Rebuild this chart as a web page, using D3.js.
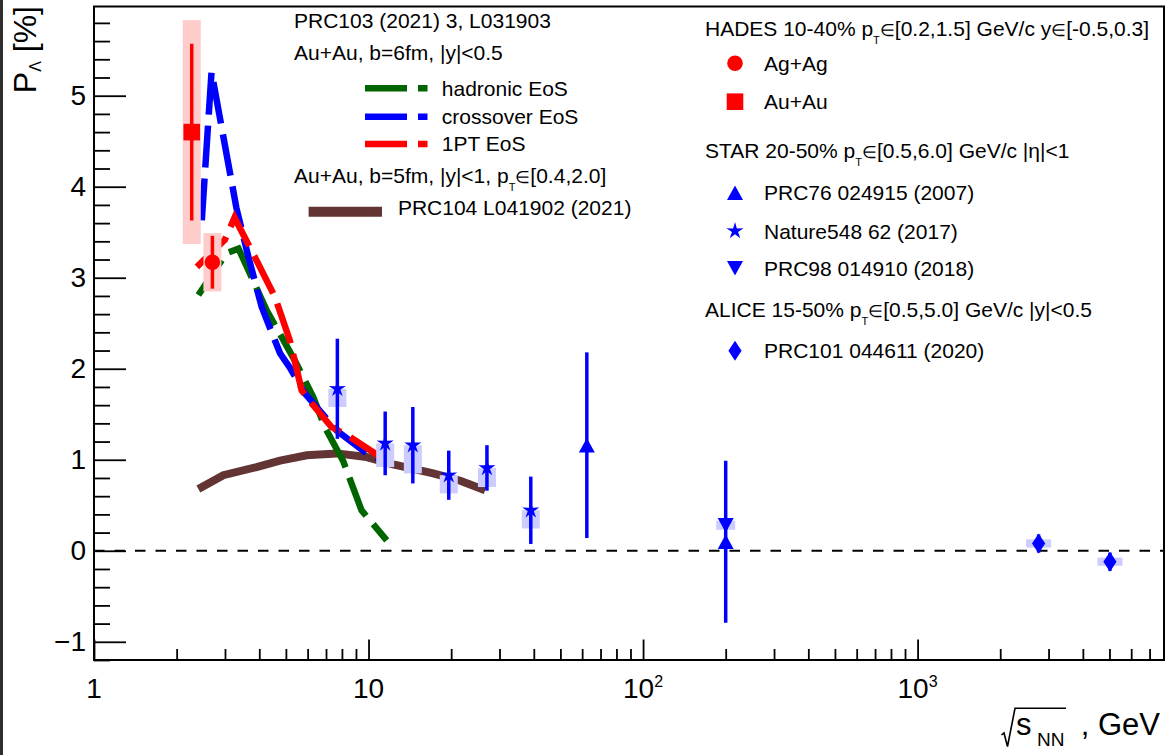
<!DOCTYPE html>
<html>
<head>
<meta charset="utf-8">
<script src="https://cdn.jsdelivr.net/npm/d3@7"></script>
<style>
  html, body { margin: 0; padding: 0; background: #fff; }
  svg text { font-family: "Liberation Sans", Arial, Helvetica, sans-serif; white-space: pre; }
</style>
</head>
<body>
<svg id="chart" width="1168" height="755"></svg>
<script>
// ---------- measurements: global Lambda polarization vs collision energy ----------
// HADES 10-40%
const hadesAgAgSqrtS = [2.70];
const hadesAgAgPol   = [3.17];
const hadesAgAgStat  = [0.29];
const hadesAgAgSys   = [0.32];

const hadesAuAuSqrtS = [2.27];
const hadesAuAuPol   = [4.60];
const hadesAuAuStat  = [0.97];
const hadesAuAuSys   = [1.23];

// STAR 20-50%, Nature 548 62 (2017): systematic band lies below the point
const star2017SqrtS   = [7.7, 11.5, 14.5, 19.6, 27, 39];
const star2017Pol     = [1.78, 1.18, 1.16, 0.83, 0.91, 0.445];
const star2017Stat    = [0.55, 0.35, 0.42, 0.27, 0.25, 0.37];
const star2017SysLow  = [0.20, 0.26, 0.31, 0.20, 0.21, 0.20];
const star2017SysHigh = [0, 0, 0, 0, 0, 0];

// STAR PRC76 024915 (2007)
const star2007SqrtS = [62.4, 200];
const star2007Pol   = [1.16, 0.10];
const star2007Stat  = [1.02, 0.89];

// STAR PRC98 014910 (2018)
const star2018SqrtS = [200];
const star2018Pol   = [0.28];
const star2018Stat  = [0.04];
const star2018Sys   = [0.05];

// ALICE 15-50%, PRC101 044611 (2020)
const aliceSqrtS = [2760, 5020];
const alicePol   = [0.08, -0.12];
const aliceStat  = [0.10, 0.10];
const aliceSys   = [0.045, 0.045];

// ---------- model curves ----------
const hadronicSqrtS  = [2.4, 3.04, 3.36, 4.26, 5.39, 6.29, 6.93, 8.1, 9.43, 11.65];
const hadronicPol    = [2.81, 3.27, 3.32, 2.64, 2.09, 1.69, 1.36, 0.98, 0.445, 0.115];

const crossoverSqrtS = [2.47, 2.68, 3.3, 3.65, 4.08, 4.76, 5.2, 5.86, 7.66, 9.84, 11.5];
const crossoverPol   = [3.63, 5.26, 3.77, 3.23, 2.68, 2.17, 2.0, 1.73, 1.32, 1.07, 0.98];

const onePTSqrtS     = [2.37, 3.0, 3.25, 3.91, 4.56, 5.17, 5.71, 6.21, 7.33, 8.57, 11.2];
const onePTPol       = [3.12, 3.42, 3.66, 3.19, 2.79, 2.31, 1.76, 1.62, 1.36, 1.25, 1.02];

const prc104SqrtS    = [2.4, 2.96, 3.91, 4.76, 5.96, 7.66, 9.84, 12.3, 17.2, 21.6, 26.6];
const prc104Pol      = [0.68, 0.83, 0.92, 0.99, 1.05, 1.07, 1.03, 0.95, 0.85, 0.77, 0.665];

// ---------- axis ticks ----------
const xTickValues = [1, 10, 100, 1000];
const yTickValues = [-1, 0, 1, 2, 3, 4, 5];

// ---------- layout ----------
const W = 1168, H = 755;
const frame = { left: 94, right: 1164, top: 6.5, bottom: 660 };
const RED = "#ff0000", BLUE = "#0000ff";
const PINK_BOX = "#ffcccc", BLUE_BOX = "#ccccff";

const x = d3.scaleLog().domain([1, 7900]).range([frame.left, frame.right]);
const y = d3.scaleLinear().domain([-1.2, 5.98]).range([frame.bottom, frame.top]);

const svg = d3.select("#chart");
svg.append("rect").attr("width", W).attr("height", H).attr("fill", "#fff");
svg.append("rect").attr("x", 0).attr("y", 0).attr("width", 3).attr("height", H).attr("fill", "#2e2e2e");

// ---------- axes ----------
const yMinor = d3.range(-6, 30).map(i => i / 5).filter(v => Math.abs(v - Math.round(v)) > 1e-6);
const gyMinor = svg.append("g").attr("transform", `translate(${frame.left},0)`)
  .call(d3.axisLeft(y).tickValues(yMinor).tickSizeInner(-16).tickSizeOuter(0).tickFormat(""));
const gy = svg.append("g").attr("transform", `translate(${frame.left},0)`)
  .call(d3.axisLeft(y).tickValues(yTickValues).tickSizeInner(-32).tickSizeOuter(0)
    .tickPadding(8).tickFormat(d3.format("d")));

const xMinor = [];
xTickValues.forEach(d => { for (let k = 2; k <= 9; k++) if (k * d <= 7900) xMinor.push(k * d); });
const gxMinor = svg.append("g").attr("transform", `translate(0,${frame.bottom})`)
  .call(d3.axisBottom(x).tickValues(xMinor).tickSizeInner(-11).tickSizeOuter(0).tickFormat(""));
const gx = svg.append("g").attr("transform", `translate(0,${frame.bottom})`)
  .call(d3.axisBottom(x).tickValues(xTickValues).tickSizeInner(-20.5).tickSizeOuter(0).tickFormat(""));

[gy, gyMinor, gx, gxMinor].forEach(g => {
  g.select(".domain").remove();
  g.selectAll(".tick line").attr("stroke", "#000").attr("stroke-width", 1.8);
});
gy.selectAll(".tick text").attr("font-size", 28).attr("fill", "#000");

// x tick labels: 1, 10, 10^2, 10^3
xTickValues.forEach(v => {
  const e = Math.round(Math.log10(v));
  const t = svg.append("text").attr("x", x(v)).attr("y", 698)
    .attr("text-anchor", "middle").attr("font-size", 28).attr("fill", "#000");
  if (e < 2) t.text(String(v));
  else {
    t.append("tspan").text("10");
    t.append("tspan").attr("dy", -11.5).attr("font-size", 16).text(String(e));
  }
});

// axis titles
const yTitle = svg.append("text").attr("transform", "translate(36,6) rotate(-90)")
  .attr("text-anchor", "end").attr("font-size", 32).attr("fill", "#000");
yTitle.append("tspan").text("P");
yTitle.append("tspan").attr("dy", 5).attr("font-size", 16).text("Λ");
yTitle.append("tspan").attr("dy", -5).text(" [%]");

svg.append("path")
  .attr("d", "M1001.5,735 L1004,733 L1007.5,746.5 L1015,708.3 L1066,708.3")
  .attr("fill", "none").attr("stroke", "#000").attr("stroke-width", 1.6);
svg.append("text").attr("x", 1016).attr("y", 735).attr("font-size", 31).attr("fill", "#000").text("s");
svg.append("text").attr("x", 1037).attr("y", 746).attr("font-size", 19).attr("fill", "#000").text("NN");
svg.append("text").attr("x", 1160).attr("y", 735).attr("text-anchor", "end")
  .attr("font-size", 31).attr("fill", "#000").text(", GeV");

// zero reference line
svg.append("line").attr("x1", frame.left).attr("x2", frame.right)
  .attr("y1", y(0)).attr("y2", y(0))
  .attr("stroke", "#000").attr("stroke-width", 2).attr("stroke-dasharray", "10.5 10");

// ---------- model curves ----------
const line = d3.line().x(d => x(d[0])).y(d => y(d[1]));
const DASH = "42 11";
const models = [
  { xs: prc104SqrtS,    ys: prc104Pol,    color: "#633434", width: 8, dash: null },
  { xs: hadronicSqrtS,  ys: hadronicPol,  color: "#006400", width: 6.5, dash: DASH },
  { xs: crossoverSqrtS, ys: crossoverPol, color: BLUE,      width: 6.5, dash: DASH },
  { xs: onePTSqrtS,     ys: onePTPol,     color: RED,       width: 6.5, dash: DASH }
];
models.forEach(m => {
  svg.append("path").datum(d3.zip(m.xs, m.ys)).attr("d", line)
    .attr("fill", "none").attr("stroke", m.color).attr("stroke-width", m.width)
    .attr("stroke-dasharray", m.dash).attr("stroke-linejoin", "miter");
});

// ---------- marker shapes ----------
function markerPath(kind) {
  switch (kind) {
    case "circle": return d3.symbol(d3.symbolCircle, Math.PI * 7.8 * 7.8)();
    case "square": return "M-8.3,-8.3H8.3V8.3H-8.3Z";
    case "triUp": return "M0,-7.2L8,7.2L-8,7.2Z";
    case "triDown": return "M0,7.2L8,-7.2L-8,-7.2Z";
    case "diamond": return "M0,-10L6.6,0L0,10L-6.6,0Z";
    case "star": {
      const pts = [];
      for (let i = 0; i < 10; i++) {
        const r = i % 2 === 0 ? 9 : 3.2;
        const a = -Math.PI / 2 + i * Math.PI / 5;
        pts.push([r * Math.cos(a), r * Math.sin(a)]);
      }
      return "M" + pts.map(p => p[0].toFixed(2) + "," + p[1].toFixed(2)).join("L") + "Z";
    }
  }
}

// ---------- data series ----------
function drawSeries(opt) {
  const rows = opt.xs.map((v, i) => ({
    e: v, p: opt.ys[i], stat: opt.stat[i],
    sLo: opt.sysLo ? opt.sysLo[i] : null, sHi: opt.sysHi ? opt.sysHi[i] : null
  }));
  const g = svg.append("g");
  if (opt.sysLo) {
    g.selectAll("rect.sys").data(rows).join("rect").attr("class", "sys")
      .attr("x", d => x(d.e) - opt.boxW / 2).attr("width", opt.boxW)
      .attr("y", d => y(d.p + d.sHi)).attr("height", d => y(d.p - d.sLo) - y(d.p + d.sHi))
      .attr("fill", opt.boxColor);
  }
  return { g, rows };
}
function drawBarsAndMarkers(s, opt) {
  s.g.selectAll("line.err").data(s.rows).join("line").attr("class", "err")
    .attr("x1", d => x(d.e)).attr("x2", d => x(d.e))
    .attr("y1", d => y(d.p - d.stat)).attr("y2", d => y(d.p + d.stat))
    .attr("stroke", opt.color).attr("stroke-width", 3.5);
  s.g.selectAll("path.mk").data(s.rows).join("path").attr("class", "mk")
    .attr("transform", d => `translate(${x(d.e)},${y(d.p)})`)
    .attr("d", markerPath(opt.marker)).attr("fill", opt.color);
}

const seriesDefs = [
  { xs: hadesAuAuSqrtS, ys: hadesAuAuPol, stat: hadesAuAuStat, sysLo: hadesAuAuSys, sysHi: hadesAuAuSys,
    boxW: 18, boxColor: PINK_BOX, color: RED, marker: "square" },
  { xs: hadesAgAgSqrtS, ys: hadesAgAgPol, stat: hadesAgAgStat, sysLo: hadesAgAgSys, sysHi: hadesAgAgSys,
    boxW: 18, boxColor: PINK_BOX, color: RED, marker: "circle" },
  { xs: star2017SqrtS, ys: star2017Pol, stat: star2017Stat, sysLo: star2017SysLow, sysHi: star2017SysHigh,
    boxW: 18, boxColor: BLUE_BOX, color: BLUE, marker: "star" },
  { xs: star2018SqrtS, ys: star2018Pol, stat: star2018Stat, sysLo: star2018Sys, sysHi: star2018Sys,
    boxW: 19, boxColor: BLUE_BOX, color: BLUE, marker: "triDown" },
  { xs: star2007SqrtS, ys: star2007Pol, stat: star2007Stat,
    color: BLUE, marker: "triUp" },
  { xs: aliceSqrtS, ys: alicePol, stat: aliceStat, sysLo: aliceSys, sysHi: aliceSys,
    boxW: 25, boxColor: BLUE_BOX, color: BLUE, marker: "diamond" }
];
const drawn = seriesDefs.map(o => drawSeries(o));
drawn.forEach((s, i) => drawBarsAndMarkers(s, seriesDefs[i]));

// ---------- text helper ----------
function richText(parent, x0, y0, segs, size) {
  const t = parent.append("text").attr("x", x0).attr("y", y0)
    .attr("font-size", size).attr("fill", "#000");
  let shift = 0;
  segs.forEach(s => {
    const sp = t.append("tspan").text(s.t);
    const target = s.dy || 0;
    if (target - shift !== 0) sp.attr("dy", target - shift);
    shift = target;
    if (s.size) sp.attr("font-size", s.size);
  });
  return t;
}
const FS = 21;
const sub = (t) => ({ t, dy: 8, size: 11 });
const elem = { t: "∈", size: 17 };

// ---------- model legend ----------
const lg = svg.append("g");
richText(lg, 294, 28.3, [{ t: "PRC103 (2021) 3, L031903" }], FS);
richText(lg, 294, 60, [{ t: "Au+Au, b=6fm, |y|<0.5" }], FS);
const modelLegend = [
  { label: "hadronic EoS", color: "#006400", y: 88.3 },
  { label: "crossover EoS", color: BLUE, y: 116.7 },
  { label: "1PT EoS", color: RED, y: 144 }
];
modelLegend.forEach(m => {
  lg.append("line").attr("x1", 365).attr("x2", 427.5).attr("y1", m.y).attr("y2", m.y)
    .attr("stroke", m.color).attr("stroke-width", 6.5).attr("stroke-dasharray", DASH);
  richText(lg, 441.8, m.y + 7.2, [{ t: m.label }], FS);
});
richText(lg, 294, 183.3, [{ t: "Au+Au, b=5fm, |y|<1, p" }, sub("T"), elem, { t: "[0.4,2.0]" }], FS);
lg.append("line").attr("x1", 308.6).attr("x2", 382).attr("y1", 211.7).attr("y2", 211.7)
  .attr("stroke", "#633434").attr("stroke-width", 10);
richText(lg, 397.9, 215, [{ t: "PRC104 L041902 (2021)" }], FS);

// ---------- data legend ----------
const rg = svg.append("g");
richText(rg, 705, 36, [{ t: "HADES 10-40% p" }, sub("T"), elem, { t: "[0.2,1.5] GeV/c y" }, elem, { t: "[-0.5,0.3]" }], FS);
richText(rg, 705, 157.7, [{ t: "STAR 20-50% p" }, sub("T"), elem, { t: "[0.5,6.0] GeV/c |η|<1" }], FS);
richText(rg, 705, 316.7, [{ t: "ALICE 15-50% p" }, sub("T"), elem, { t: "[0.5,5.0] GeV/c |y|<0.5" }], FS);
const dataLegend = [
  { label: "Ag+Ag", marker: "circle", color: RED, y: 63.3 },
  { label: "Au+Au", marker: "square", color: RED, y: 101.7 },
  { label: "PRC76 024915 (2007)", marker: "triUp", color: BLUE, y: 192.7 },
  { label: "Nature548 62 (2017)", marker: "star", color: BLUE, y: 231 },
  { label: "PRC98 014910 (2018)", marker: "triDown", color: BLUE, y: 268.3 },
  { label: "PRC101 044611 (2020)", marker: "diamond", color: BLUE, y: 350.7 }
];
dataLegend.forEach(d => {
  rg.append("path").attr("transform", `translate(735,${d.y})`)
    .attr("d", markerPath(d.marker)).attr("fill", d.color);
  richText(rg, 764, d.y + 7.6, [{ t: d.label }], FS);
});

// ---------- frame ----------
svg.append("rect").attr("x", frame.left).attr("y", frame.top)
  .attr("width", frame.right - frame.left).attr("height", frame.bottom - frame.top)
  .attr("fill", "none").attr("stroke", "#000").attr("stroke-width", 2);
</script>
</body>
</html>
